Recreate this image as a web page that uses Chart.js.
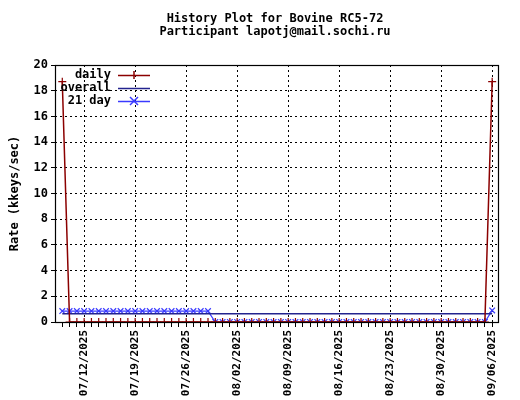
<!DOCTYPE html>
<html><head><meta charset="utf-8">
<script src="https://cdn.jsdelivr.net/npm/chart.js@4"></script>
<style>body{margin:0;background:#fff}#w{width:520px;height:400px}</style>
</head><body><div id="w"><canvas id="c" width="520" height="400"></canvas></div>
<script>
const titleLines = ["History Plot for Bovine RC5-72", "Participant lapotj@mail.sochi.ru"];
const yTitle = "Rate (kkeys/sec)";
// day index 0 = 07/09/2025
const dayIndex = [0,1,2,3,4,5,6,7,8,9,10,11,12,13,14,15,16,17,18,19,20,21,22,23,24,25,26,27,28,29,30,31,32,33,34,35,36,37,38,39,40,41,42,43,44,45,46,47,48,49,50,51,52,53,54,55,56,57,58,59];
const daily = [18.7,0,0,0,0,0,0,0,0,0,0,0,0,0,0,0,0,0,0,0,0,0,0,0,0,0,0,0,0,0,0,0,0,0,0,0,0,0,0,0,0,0,0,0,0,0,0,0,0,0,0,0,0,0,0,0,0,0,0,18.7];
const overall = [0.65,0.65,0.65,0.65,0.65,0.65,0.65,0.65,0.65,0.65,0.65,0.65,0.65,0.65,0.65,0.65,0.65,0.65,0.65,0.65,0.65,0.65,0.65,0.65,0.65,0.65,0.65,0.65,0.65,0.65,0.65,0.65,0.65,0.65,0.65,0.65,0.65,0.65,0.65,0.65,0.65,0.65,0.65,0.65,0.65,0.65,0.65,0.65,0.65,0.65,0.65,0.65,0.65,0.65,0.65,0.65,0.65,0.65,0.65,0.65];
const day21 = [0.85,0.85,0.85,0.85,0.85,0.85,0.85,0.85,0.85,0.85,0.85,0.85,0.85,0.85,0.85,0.85,0.85,0.85,0.85,0.85,0.85,0,0,0,0,0,0,0,0,0,0,0,0,0,0,0,0,0,0,0,0,0,0,0,0,0,0,0,0,0,0,0,0,0,0,0,0,0,0,0.9];
const tickDays = [3,10,17,24,31,38,45,52,59];
const tickLabels = ["07/12/2025","07/19/2025","07/26/2025","08/02/2025","08/09/2025","08/16/2025","08/23/2025","08/30/2025","09/06/2025"];
const seriesNames = ["daily","overall","21 day"];
const colors = ["#8b0000","#23238e","#3a3aff"];

const F = "'DejaVu Sans Mono', monospace";
const pts = a => dayIndex.map((d,i)=>({x:d,y:a[i]}));
const extras = {
  id:'extras',
  afterDraw(ch){
    const c=ch.ctx, a=ch.chartArea;
    c.save();
    c.setLineDash([]);
    c.strokeStyle='#000'; c.lineWidth=1.2;
    c.strokeRect(Math.round(a.left)+0.5,Math.round(a.top)+0.5,Math.round(a.right-a.left),Math.round(a.bottom-a.top));
    c.fillStyle='#000'; c.font='bold 12px '+F; c.textAlign='center'; c.textBaseline='middle';
    c.fillText(titleLines[0],275,19); c.fillText(titleLines[1],275,32);
    c.font='bold 12px '+F; c.textAlign='right';
    const ls=['cross',null,'crossRot'];
    for(let i=0;i<3;i++){
      const y=75+i*13;
      c.fillStyle='#000'; c.fillText(seriesNames[i],111,y);
      c.strokeStyle=colors[i]; c.lineWidth=1.5;
      c.beginPath(); c.moveTo(118,y+0.5); c.lineTo(150,y+0.5); c.stroke();
      if(ls[i]==='cross'){c.beginPath();c.moveTo(134,y-4);c.lineTo(134,y+4);c.stroke();}
      if(ls[i]==='crossRot'){c.beginPath();c.moveTo(130,y-4);c.lineTo(138,y+4);c.moveTo(138,y-4);c.lineTo(130,y+4);c.stroke();}
    }
    c.restore();
  }
};
new Chart(document.getElementById('c'),{
  type:'line',
  data:{datasets:[
    {label:seriesNames[0],data:pts(daily),borderColor:colors[0],backgroundColor:colors[0],borderWidth:1.5,pointStyle:'cross',pointRadius:4,pointBorderWidth:1.2},
    {label:seriesNames[1],data:pts(overall),borderColor:colors[1],borderWidth:1.5,pointRadius:0},
    {label:seriesNames[2],data:pts(day21),borderColor:colors[2],backgroundColor:colors[2],borderWidth:1.2,pointStyle:'crossRot',pointRadius:4,pointBorderWidth:1.2}
  ]},
  options:{
    responsive:false,animation:false,events:[],
    layout:{padding:{top:65,right:22,left:4,bottom:0}},
    plugins:{legend:{display:false},tooltip:{enabled:false}},
    scales:{
      x:{type:'linear',min:-1,max:59.8,
        afterBuildTicks:s=>{s.ticks=dayIndex.map(v=>({value:v}));},
        afterFit:s=>{s.height=78;},
        grid:{color:ctx=>tickDays.includes(ctx.tick&&ctx.tick.value)?'#000':'rgba(0,0,0,0)',
              tickColor:'#000',tickLength:5,lineWidth:1,drawTicks:true,tickBorderDash:[],borderDash:[2,3]},
        border:{display:false,dash:[2,3]},
        ticks:{autoSkip:false,maxRotation:90,minRotation:90,color:'#000',font:{family:F,size:11,weight:'bold'},
          callback:v=>{const k=tickDays.indexOf(v);return k<0?'':tickLabels[k];}}
      },
      y:{min:0,max:20,
        afterFit:s=>{s.width=51;},
        grid:{color:'#000',borderDash:[2,3],tickLength:4,tickColor:'#000'},
        border:{display:false,dash:[2,3]},
        title:{display:true,text:yTitle,color:'#000',font:{family:F,size:12,weight:'bold'}},
        ticks:{stepSize:2,color:'#000',font:{family:F,size:12,weight:'bold'}}
      }
    }
  },
  plugins:[extras]
});
</script></body></html>
